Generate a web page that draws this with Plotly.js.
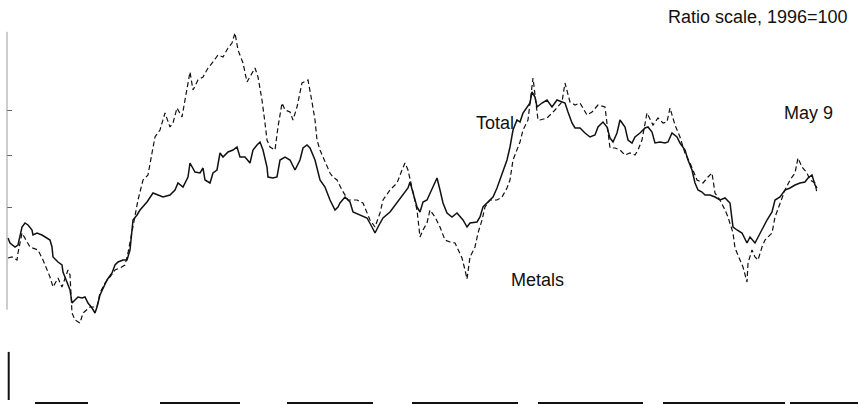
<!DOCTYPE html>
<html>
<head>
<meta charset="utf-8">
<script src="https://cdn.plot.ly/plotly-3.0.1.min.js"></script>
<style>
html,body{margin:0;padding:0;background:#fff;}
#chart{width:858px;height:405px;}
</style>
</head>
<body>
<div id="chart"></div>
<script>
// Time in months since the start of the series; index values (1996=100)
const totalMonths = [0.1,0.3,0.8,1.1,1.5,1.8,2.1,2.5,2.6,3.0,3.5,4.0,4.3,4.5,4.6,5.1,5.5,5.6,6.0,6.3,6.5,6.8,7.1,7.5,7.8,8.1,8.5,8.8,9.0,9.3,9.6,10.0,10.5,10.8,11.1,11.6,12.0,12.3,12.5,12.6,13.0,13.3,14.0,14.6,15.1,15.6,16.3,16.8,17.1,17.6,18.1,18.3,18.8,19.3,19.6,19.8,20.3,20.6,21.0,21.3,21.6,22.1,22.6,23.0,23.3,23.8,24.3,24.6,25.0,25.3,25.6,26.0,26.1,26.6,27.0,27.3,27.8,28.3,28.8,29.3,29.6,30.0,30.3,30.8,31.3,31.8,32.3,32.8,33.1,33.3,33.8,34.3,34.6,35.3,36.0,36.5,36.8,37.1,37.6,38.3,39.0,39.6,40.1,40.3,40.6,41.0,41.3,41.6,42.0,42.3,42.6,43.0,43.3,43.6,44.0,44.5,45.0,45.3,45.6,46.0,46.3,47.0,47.3,47.6,48.1,48.6,49.0,49.3,49.6,50.0,50.3,50.6,51.0,51.3,51.6,52.0,52.3,52.5,52.8,53.0,53.5,54.0,54.5,55.0,55.5,55.8,56.1,56.5,56.8,57.3,57.8,58.3,58.8,59.1,59.6,60.0,60.3,60.6,61.0,61.3,61.8,62.1,62.5,62.8,63.3,63.8,64.1,64.5,64.8,65.3,65.8,66.1,66.5,67.0,67.3,67.8,68.1,68.5,68.8,69.1,69.5,69.8,70.3,70.8,71.3,71.8,72.3,72.6,73.0,73.5,74.0,74.3,74.8,75.3,75.6,76.0,76.5,76.8,77.3,77.8,78.3,78.8,79.3,79.8,80.1,80.5,80.8,81.0];
const totalIndex = [81.25,80,79,79.5,84,85,84.5,83.25,82,82.5,82,81.25,80.75,79,76.5,75.25,74.5,72.75,70,68.25,65,65.75,66.5,66.25,66.5,65,63.75,62.5,64,67,68.75,70.75,72.5,74.5,75.25,75.75,75.75,78.25,83.25,85.75,87,88.25,90.25,92.5,92,91.5,92,93.25,95,94,96.5,100,97.75,97.5,98.75,95.75,95,97.5,98.25,102.5,101.5,102.75,103.25,104,101.5,101.5,100,103.25,104.5,105.25,103.25,99,96.5,96.25,96.5,100.75,101.5,100.75,98.25,100.75,103.75,104.5,103.75,100.75,95.75,94,90.75,88.25,89,90,91.5,90.25,87.75,87,86.25,84,82.5,84,86.25,87.75,90,92,93.75,95.25,92.75,89,87.75,90.25,90.75,92.5,94,96.25,93.25,90,87.5,86.5,87.5,86.5,85.75,84,85,85.25,86.5,89,90.25,91.5,93.75,95.75,98.25,100.75,104,108.25,110.75,110.25,112.5,114,115,117.75,116.5,114,115,115.75,114,115.75,115.25,115,112.75,110,108.75,108.75,107.5,106.5,107,109,110.25,109,106.25,105.25,107.5,110.75,109,105.75,105,106.5,107.5,108.75,109,107.75,105,105.25,105,105.25,107.5,106.5,105,103.25,100.75,98.25,95,93.25,92.75,92,92,91.5,90.75,91.25,90,84,83.25,82.5,80,81.5,80,82.5,84,85.75,87.75,90.75,91.5,93.25,93.75,94.5,95,95.25,96.25,97,94.5,93.75];

const metalsMonths = [0.1,0.5,1.0,1.1,1.5,2.3,3.1,3.6,4.3,4.6,5.1,5.5,6.1,6.3,6.5,6.8,7.3,7.6,8.3,9.0,9.3,9.8,10.3,10.8,11.3,11.8,12.1,12.5,13.1,13.6,14.1,14.5,14.8,15.3,15.8,16.3,16.6,17.0,17.5,17.8,18.1,18.3,18.6,19.1,19.6,20.1,20.6,21.1,21.6,22.1,22.5,22.8,23.1,23.6,24.0,24.5,24.8,25.1,25.5,25.8,26.0,26.3,26.8,27.1,27.5,27.8,28.3,28.6,29.0,29.5,30.1,30.5,30.8,31.0,31.3,31.6,32.0,32.3,32.6,33.0,33.5,34.1,35.0,35.6,36.3,36.8,37.3,37.6,38.3,39.0,39.5,39.8,40.1,40.5,41.0,41.3,41.6,42.0,42.3,42.8,43.3,43.8,44.3,44.8,45.5,45.8,46.0,46.3,46.8,47.1,47.5,47.8,48.3,49.0,49.5,50.0,50.3,50.6,51.0,51.3,51.6,52.1,52.6,53.1,53.3,54.0,54.8,55.5,55.8,56.3,56.8,57.3,58.0,58.5,59.1,59.8,60.3,60.8,61.3,61.8,62.3,62.8,63.1,63.5,64.0,64.6,65.1,65.6,66.0,66.3,66.8,67.3,67.8,68.3,69.0,69.6,70.1,70.5,70.8,71.3,71.8,72.1,72.6,72.8,73.3,73.6,74.0,74.1,74.5,74.8,75.1,75.5,75.8,76.1,76.5,76.8,77.3,77.8,78.3,78.8,79.1,79.5,80.0,80.3,80.8,81.0];
const metalsIndex = [76.25,76.5,75.75,77.5,82.5,79,78.25,75.75,71.5,69,71.25,69,73.25,72,62.5,60.75,60,62.5,64,64,67.5,70,71.5,73.25,73.75,74.5,77.5,82.5,90.75,95.75,97,102.5,106.5,108.25,112.5,109,110,113.75,111.5,115.75,119.5,122.75,118.25,120.75,121.5,123.75,125.25,127,126.5,128.75,130,132.5,128.25,125,120.25,122.5,123.75,121.5,115.75,110,105.75,104,103.25,109,115,113.25,112.75,110.75,114,120,120.75,115.25,110.75,105.75,103.25,101.5,99,97.5,96.5,95.75,93.25,90.75,90.75,90,85.75,84,87.5,90.75,93.25,95,98.25,100,98.25,94,88.25,81.5,83.25,85,88.25,86.5,84,80.75,80.25,80,76.25,73.25,71,76.5,79,82.5,85.75,89,90.75,90.75,91.5,93.75,95.75,100.75,103.25,105.25,108.25,110.75,121.25,110.75,110.75,111.25,113.25,115.25,120,115.25,114.5,115,112,112.75,114.5,114,103.75,103.75,103.25,102,102.5,102,103.25,105.75,112.5,109.5,111.25,110,110.25,113.75,109.5,106.5,102.5,100,95.75,95,96.5,97.5,92.5,90.75,88.25,86.5,82.5,78.75,75.75,74,70.25,75,78.25,76.5,75.75,79,80.75,81.5,82.5,86.5,90,93.25,95.75,97.5,101.25,99,97.5,95.75,95,92.5];

const seriesNames = ["Total", "Metals"];
const yTickVals = [89, 102, 113.25];
// Decorative pieces of the broken baseline, in months
const baselineSegments = [[2.8,8.1],[15.3,23.3],[28.0,36.6],[40.5,51.1],[53.1,63.6],[65.6,77.8],[78.3,85.1]];

const FONT = "'Liberation Sans', Arial, Helvetica, sans-serif";

const traces = [
  {x: totalMonths, y: totalIndex, name: seriesNames[0], type: "scatter", mode: "lines",
   line: {color: "#111", width: 1.5}, hoverinfo: "skip"},
  {x: metalsMonths, y: metalsIndex, name: seriesNames[1], type: "scatter", mode: "lines",
   line: {color: "#111", width: 1.2, dash: "5px,3px"}, hoverinfo: "skip"}
];

const shapes = [
  // faint left axis line
  {type: "line", xref: "paper", yref: "paper", x0: 0, x1: 0, y0: 0.25, y1: 0.995,
   line: {color: "#9a9a9a", width: 1}},
  // heavy stub at lower left
  {type: "line", xref: "paper", yref: "paper", x0: 0.002, x1: 0.002, y0: 0.008, y1: 0.137,
   line: {color: "#111", width: 2}}
];
baselineSegments.forEach(s => shapes.push({
  type: "line", xref: "x", yref: "paper", x0: s[0], x1: s[1], y0: 0, y1: 0,
  line: {color: "#111", width: 2}
}));

const layout = {
  width: 858, height: 405,
  margin: {l: 7, r: 0, t: 30, b: 2, pad: 0},
  paper_bgcolor: "#fff", plot_bgcolor: "#fff",
  showlegend: false,
  font: {family: FONT, color: "#111", size: 18},
  xaxis: {range: [0, 85.1], showgrid: false, zeroline: false, showline: false,
          showticklabels: false, ticks: "", fixedrange: true},
  yaxis: {range: [40, 133.25], showgrid: false, zeroline: false, showline: false,
          showticklabels: false, ticks: "inside", ticklen: 5, tickwidth: 1, tickcolor: "#666",
          tickmode: "array", tickvals: yTickVals, fixedrange: true},
  shapes: shapes,
  annotations: [
    {text: "Ratio scale, 1996=100", xref: "paper", yref: "paper", x: 0.9906, y: 1.035,
     xanchor: "right", yanchor: "middle", showarrow: false, font: {family: FONT, size: 18, color: "#111"}},
    {text: seriesNames[0], xref: "x", yref: "y", x: 48.8, y: 110, xanchor: "center", yanchor: "middle",
     showarrow: false, font: {family: FONT, size: 18, color: "#111"}},
    {text: "May 9", xref: "x", yref: "y", x: 80.1, y: 112.5, xanchor: "center", yanchor: "middle",
     showarrow: false, font: {family: FONT, size: 18, color: "#111"}},
    {text: seriesNames[1], xref: "x", yref: "y", x: 53.0, y: 70.75, xanchor: "center", yanchor: "middle",
     showarrow: false, font: {family: FONT, size: 18, color: "#111"}}
  ]
};

Plotly.newPlot("chart", traces, layout, {displayModeBar: false, staticPlot: true});
</script>
</body>
</html>
